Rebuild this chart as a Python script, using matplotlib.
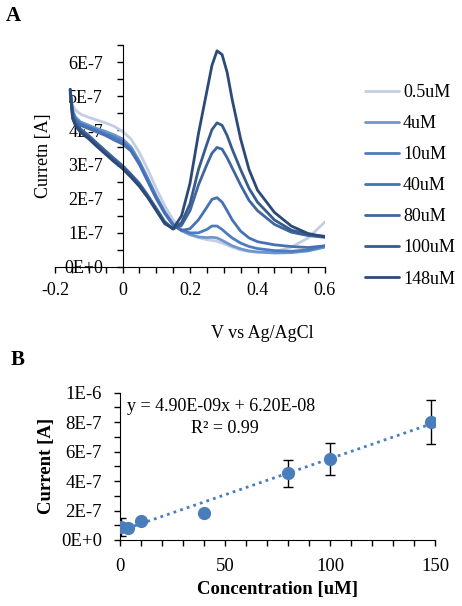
"""Cyclic voltammetry curves (A) and calibration line (B)."""

import numpy as np
import matplotlib
matplotlib.use('Agg')
from matplotlib import pyplot as plt
from matplotlib.ticker import MultipleLocator

#-----------------------------------------------------------------------------
# Data
#-----------------------------------------------------------------------------

# panel A: potential (V vs Ag/AgCl) and current in units of 1E-7 A
volts = [-0.155, -0.148, -0.14, -0.125, -0.1, -0.075, -0.05, -0.025, 0.0,
         0.025, 0.05, 0.075, 0.1, 0.125, 0.15, 0.175, 0.2, 0.225, 0.25,
         0.265, 0.28, 0.295, 0.31, 0.325, 0.35, 0.375, 0.4, 0.45, 0.5,
         0.55, 0.6]

conc_labels = ['0.5uM', '4uM', '10uM', '40uM', '80uM', '100uM', '148uM']

i_05 = [5.0, 4.75, 4.6, 4.48, 4.38, 4.3, 4.22, 4.12, 3.97, 3.75, 3.35, 2.85,
        2.3, 1.8, 1.38, 1.12, 0.95, 0.86, 0.8, 0.78, 0.75, 0.7, 0.64,
        0.58, 0.5, 0.45, 0.43, 0.45, 0.58, 0.85, 1.32]
i_4 = [5.1, 4.6, 4.4, 4.25, 4.15, 4.05, 3.97, 3.87, 3.75, 3.52, 3.1, 2.6,
       2.08, 1.62, 1.25, 1.06, 0.95, 0.88, 0.86, 0.87, 0.85, 0.78, 0.7,
       0.62, 0.53, 0.47, 0.44, 0.41, 0.42, 0.47, 0.58]
i_10 = [5.1, 4.55, 4.35, 4.2, 4.1, 4.0, 3.9, 3.8, 3.68, 3.45, 3.05, 2.55,
        2.05, 1.6, 1.25, 1.08, 1.0, 1.0, 1.1, 1.2, 1.2, 1.1, 0.97,
        0.85, 0.7, 0.6, 0.54, 0.48, 0.46, 0.5, 0.62]
i_40 = [5.15, 4.5, 4.3, 4.15, 4.05, 3.95, 3.85, 3.72, 3.6, 3.4, 3.0, 2.5,
        2.0, 1.57, 1.22, 1.07, 1.12, 1.38, 1.75, 1.98, 2.03, 1.9, 1.65,
        1.38, 1.05, 0.85, 0.74, 0.65, 0.6, 0.57, 0.62]
i_80 = [5.2, 4.45, 4.25, 4.05, 3.85, 3.62, 3.4, 3.18, 2.97, 2.72, 2.45, 2.1,
        1.72, 1.33, 1.12, 1.22, 1.65, 2.4, 3.0, 3.33, 3.5, 3.45, 3.2, 2.9,
        2.4, 1.95, 1.65, 1.25, 1.02, 0.92, 0.87]
i_100 = [5.2, 4.4, 4.2, 4.0, 3.8, 3.57, 3.35, 3.12, 2.92, 2.68, 2.4, 2.06,
         1.68, 1.3, 1.11, 1.3, 1.85, 2.85, 3.6, 4.02, 4.22, 4.15, 3.85,
         3.45, 2.85, 2.3, 1.9, 1.38, 1.08, 0.95, 0.9]
i_148 = [5.2, 4.35, 4.15, 3.95, 3.75, 3.52, 3.3, 3.08, 2.88, 2.63, 2.36, 2.03,
         1.65, 1.27, 1.12, 1.5, 2.45, 3.9, 5.15, 5.9, 6.33, 6.22, 5.7,
         4.9, 3.75, 2.85, 2.25, 1.6, 1.2, 0.98, 0.88]

curves = [i_05, i_4, i_10, i_40, i_80, i_100, i_148]
curve_colors = ['#c3cee4', '#6e96cd', '#4c7cc0', '#4672b3', '#40669e',
                '#375b8d', '#2c4a78']

a_yticks = [0, 1e-7, 2e-7, 3e-7, 4e-7, 5e-7, 6e-7]
a_ylabels = ['0E+0', '1E-7', '2E-7', '3E-7', '4E-7', '5E-7', '6E-7']
a_xticks = [-0.2, 0, 0.2, 0.4, 0.6]
a_xlabels = ['-0.2', '0', '0.2', '0.4', '0.6']

# panel B: calibration
conc = [0.5, 4, 10, 40, 80, 100, 148]
current = [0.86e-7, 0.84e-7, 1.31e-7, 1.85e-7, 4.52e-7, 5.5e-7, 8.02e-7]
current_err = [0.62e-7, 0, 0, 0, 0.9e-7, 1.1e-7, 1.47e-7]
slope = 4.90e-9
intercept = 6.20e-8

b_yticks = [0, 2e-7, 4e-7, 6e-7, 8e-7, 1e-6]
b_ylabels = ['0E+0', '2E-7', '4E-7', '6E-7', '8E-7', '1E-6']
b_xticks = [0, 50, 100, 150]

#-----------------------------------------------------------------------------
# Figure
#-----------------------------------------------------------------------------

W, H = 462, 606
plt.rcParams['font.family'] = 'Liberation Serif'
fig = plt.figure(figsize=(W / 100, H / 100), dpi=100)


def frac_box(x0, y0, x1, y1):
    """Pixel box (left, top, right, bottom) to figure fractions."""
    return [x0 / W, 1 - y1 / H, (x1 - x0) / W, (y1 - y0) / H]


# --- panel A
ax = fig.add_axes(frac_box(55, 45, 325, 267))
v = np.array(volts)
for vals, lab, col in zip(curves, conc_labels, curve_colors):
    ax.plot(v, np.array(vals) * 1e-7, color=col, lw=2.0, label=lab,
            solid_capstyle='round', solid_joinstyle='round')

ax.set_xlim(-0.2, 0.6)
ax.set_ylim(0, 6.5e-7)
ax.spines['left'].set_position(('data', 0))
ax.spines['top'].set_visible(False)
ax.spines['right'].set_visible(False)
ax.set_xticks(a_xticks)
ax.set_xticklabels(a_xlabels)
ax.set_yticks(a_yticks)
ax.set_yticklabels(a_ylabels)
ax.xaxis.set_minor_locator(MultipleLocator(0.05))
ax.yaxis.set_minor_locator(MultipleLocator(0.5e-7))
ax.tick_params(which='both', direction='out', length=4, width=1)
ax.tick_params(axis='x', labelsize=13, pad=7)
ax.tick_params(axis='y', labelsize=13, pad=10)
ax.set_ylabel('Curretn [A]', fontsize=13)
ax.yaxis.set_label_coords(-0.011, 0.5)
fig.text(262 / W, 1 - 334 / H, 'V vs Ag/AgCl', fontsize=13,
         ha='center', va='center')

fig.legend(loc='upper left', bbox_to_anchor=(365 / W, 1 - 84 / H),
           frameon=False, fontsize=13, handlelength=1.9,
           handletextpad=0.2, labelspacing=0.78, borderpad=0,
           borderaxespad=0)

fig.text(13 / W, 1 - 16 / H, 'A', fontsize=15, fontweight='bold',
         ha='center', va='center')

# --- panel B
bx = fig.add_axes(frac_box(120, 392.7, 435, 540))
bx.errorbar(conc, current, yerr=current_err, fmt='none', ecolor='black',
            elinewidth=1, capsize=3.5, capthick=1, zorder=2)
fit_x = np.array([conc[0], conc[-1]])
bx.plot(fit_x, slope * fit_x + intercept, color='#4a7ebb', lw=2,
        ls=(0, (1, 1.5)), zorder=3)
bx.plot(conc, current, 'o', color='#4a7ebb', ms=8.5, zorder=4)

bx.set_xlim(0, 150)
bx.set_ylim(0, 1e-6)
bx.spines['top'].set_visible(False)
bx.spines['right'].set_visible(False)
bx.set_xticks(b_xticks)
bx.set_yticks(b_yticks)
bx.set_yticklabels(b_ylabels)
bx.xaxis.set_minor_locator(MultipleLocator(10))
bx.yaxis.set_minor_locator(MultipleLocator(1e-7))
bx.tick_params(which='both', direction='out', length=4, width=1)
bx.tick_params(axis='x', labelsize=13.5, pad=9)
bx.tick_params(axis='y', labelsize=13.5, pad=9)
bx.set_xlabel('Concentration [uM]', fontsize=13.5, fontweight='bold')
bx.set_ylabel('Current [A]', fontsize=13.5, fontweight='bold')
bx.xaxis.set_label_coords(0.5, -0.28)
bx.yaxis.set_label_coords(-0.205, 0.5)

bx.text(0.022, 0.903, 'y = 4.90E-09x + 6.20E-08', transform=bx.transAxes,
        fontsize=13, ha='left', va='center')
bx.text(0.333, 0.76, 'R² = 0.99', transform=bx.transAxes,
        fontsize=13, ha='center', va='center')

fig.text(18 / W, 1 - 360 / H, 'B', fontsize=15, fontweight='bold',
         ha='center', va='center')

fig.savefig('out.png', dpi=100)
